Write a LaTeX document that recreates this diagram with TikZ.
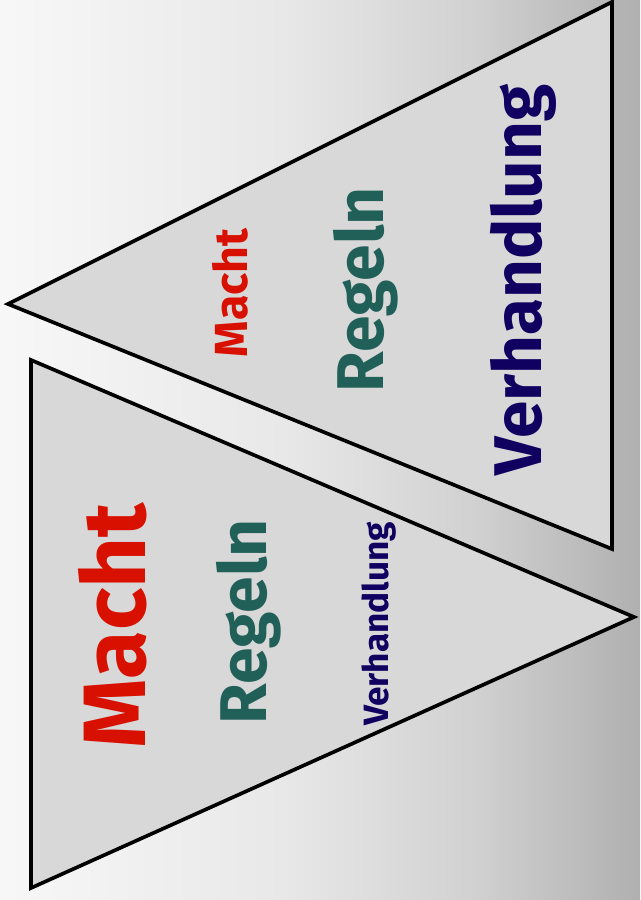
\documentclass[tikz,border=0pt]{standalone}
\usepackage{fontspec}
\setmainfont{Fira Sans}
\usepackage{xcolor}
\usepackage{tikz}
\usetikzlibrary{positioning}
\definecolor{machtred}{RGB}{216,16,0}
\definecolor{regelteal}{RGB}{32,96,88}
\definecolor{verhnavy}{RGB}{16,0,96}
\definecolor{wedgefill}{RGB}{216,216,216}
\pgfdeclarehorizontalshading{backshade}{100bp}{color(0bp)=(white!97!black); color(25bp)=(white!97!black); color(47bp)=(black!9); color(62bp)=(black!18); color(75bp)=(black!31); color(100bp)=(black!31)}
\tikzset{
  wedge/.style={fill=wedgefill, draw=black, line width=2.6pt, line join=miter},
  word/.style={rotate=90, anchor=base, inner sep=0pt},
}

\begin{document}
\begin{tikzpicture}[x=0.025cm, y=-0.025cm]
  \useasboundingbox (0,0) rectangle (640,900);
  \shade[shading=backshade] (0,0) rectangle (640,900);
  % upper wedge, point to the left
  \coordinate (upTip) at (8,304);
  \coordinate (upTop) at (612,2);
  \coordinate (upBot) at (612,549);
  \draw[wedge] (upTip) -- (upTop) -- (upBot) -- cycle;
  \node[word, machtred, font=\fontsize{33}{36}\selectfont\bfseries] (upMacht) at (247,293) {Macht};
  \node[word, regelteal, font=\fontsize{47}{52}\selectfont\bfseries] (upRegeln) at (383,290) {Regeln};
  \node[word, verhnavy, font=\fontsize{48}{52}\selectfont\bfseries] (upVerh) at (541,280) {Verhandlung};
  % lower wedge, point to the right
  \coordinate (loTop) at (31,360);
  \coordinate (loBot) at (31,888);
  \coordinate (loTip) at (634,617);
  \draw[wedge] (loTop) -- (loTip) -- (loBot) -- cycle;
  \node[word, machtred, font=\fontsize{63}{68}\selectfont\bfseries] (loMacht) at (145,626) {Macht};
  \node[word, regelteal, font=\fontsize{47}{52}\selectfont\bfseries] (loRegeln) at (266,622) {Regeln};
  \node[word, verhnavy, font=\fontsize{25}{28}\selectfont\bfseries] (loVerh) at (388,624) {Verhandlung};
\end{tikzpicture}
\end{document}
